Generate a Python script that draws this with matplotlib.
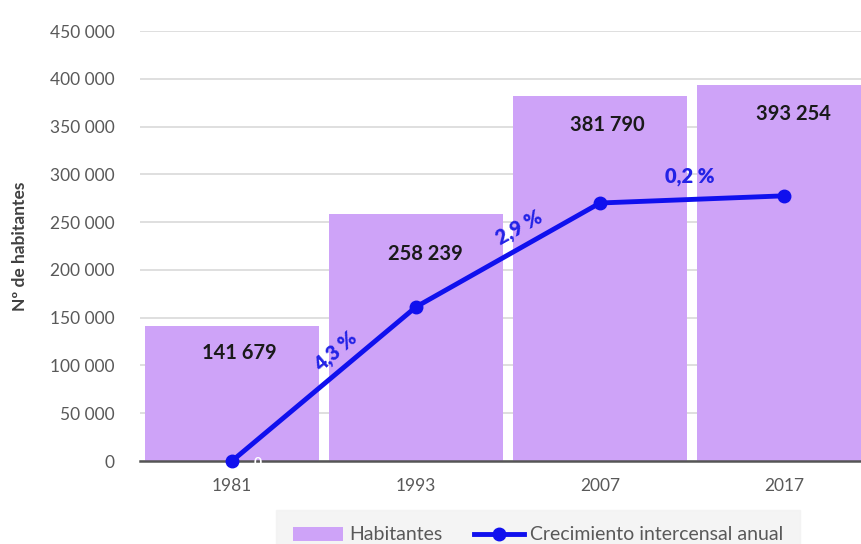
import numpy as np
import matplotlib.pyplot as plt
from matplotlib.ticker import MultipleLocator, FuncFormatter

years = ["1981", "1993", "2007", "2017"]
habitantes = [141679, 258239, 381790, 393254]
crecimiento = [0, 4.3, 2.9, 0.2]
bar_labels = ["141 679", "258 239", "381 790", "393 254"]
rate_labels = ["0", "4,3 %", "2,9 %", "0,2 %"]

plt.rcParams['font.family'] = ['Lato', 'DejaVu Sans']

fig = plt.figure(figsize=(8.62, 5.44), dpi=100)
ax = fig.add_axes([140/862, (544-461)/544, 736/862, 430/544])

x = np.arange(len(years))
ax.bar(x, habitantes, width=0.945, color="#cea3f8", label="Habitantes", zorder=2)
ax.set_xlim(-0.5, 3.5)
ax.set_ylim(0, 450000)
ax.yaxis.set_major_locator(MultipleLocator(50000))
ax.yaxis.set_major_formatter(FuncFormatter(lambda v, p: f"{int(v):,}".replace(",", " ")))
ax.grid(axis="y", color="#d9d9d9", linewidth=1.2, zorder=0)
for s in ["top", "right", "left"]:
    ax.spines[s].set_visible(False)
ax.spines["bottom"].set_color("#555555")
ax.spines["bottom"].set_linewidth(1.8)
ax.spines["bottom"].set_zorder(3)
ax.tick_params(axis="y", length=0, labelsize=12.5, labelcolor="#595959", pad=18)
ax.tick_params(axis="x", length=0, labelsize=12.5, labelcolor="#595959", pad=12)
ax.set_xticks(x, years)
ax.set_ylabel("Nº de habitantes", fontsize=12.5, fontweight="bold", color="#404040", labelpad=16)

offsets = [(0.04, 0.80), (0.05, 0.84), (0.04, 0.885), (0.05, 0.915)]
for i, (lab, h) in enumerate(zip(bar_labels, habitantes)):
    ax.text(x[i] + offsets[i][0], h * offsets[i][1] if i < 2 else h - 30000, lab,
            ha="center", va="center", fontsize=14.5, fontweight="bold", color="#1a1a1a", zorder=5)

ax2 = ax.twinx()
cum = np.cumsum(crecimiento)
ax2.plot(x, cum, color="#1010ee", linewidth=3.5, marker="o", markersize=9,
         label="Crecimiento intercensal anual", zorder=4, clip_on=False)
ax2.set_ylim(0, 12)
ax2.set_yticks([])
for s in ["top", "right", "left", "bottom"]:
    ax2.spines[s].set_visible(False)

rate_style = dict(color="#2323e6", fontsize=14.5, fontweight="heavy", ha="center", va="center")
ax2.text(0.14, -0.05, rate_labels[0], color="white", fontsize=10, fontweight="bold", ha="center", va="center")
ax2.text(0.56, 3.05, rate_labels[1], rotation=41, **rate_style)
ax2.text(1.56, 6.5, rate_labels[2], rotation=29, **rate_style)
ax2.text(2.49, 7.95, rate_labels[3], **rate_style)

h1, l1 = ax.get_legend_handles_labels()
h2, l2 = ax2.get_legend_handles_labels()
leg = fig.legend(h1 + h2, l1 + l2, loc="center", bbox_to_anchor=(538/862, (544-535)/544),
                 ncol=2, frameon=True, fontsize=14, handlelength=2.6, columnspacing=1.6,
                 borderpad=0.55, handletextpad=0.3, borderaxespad=0)
leg.get_frame().set_facecolor("#f2f2f2")
leg.get_frame().set_edgecolor("#f2f2f2")
leg.get_frame().set_boxstyle("square")
for t in leg.get_texts():
    t.set_color("#595959")

fig.savefig("out.png", dpi=100)
